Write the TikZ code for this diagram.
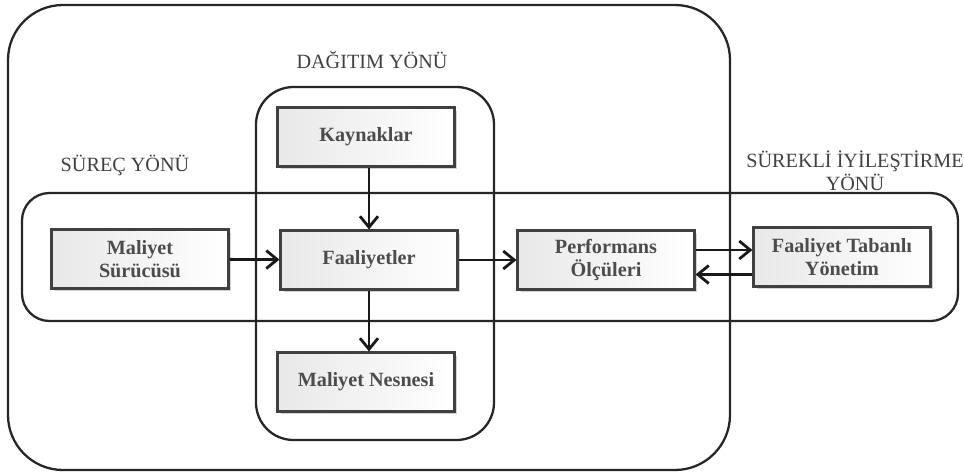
\documentclass[tikz,border=0pt]{standalone}
\usepackage{fontspec}
\setmainfont{Liberation Serif}
\usetikzlibrary{arrows.meta,shadows,positioning}

\begin{document}
\begin{tikzpicture}[
    x=0.02cm, y=-0.02cm,
    block/.style={rectangle, draw=black!75, line width=1.2pt, left color=black!9, right color=white, minimum width=3.54cm, minimum height=1.18cm, align=center, text=black!70, font=\fontsize{11.5}{13}\selectfont\bfseries, drop shadow={opacity=0.35, shadow xshift=0.6mm, shadow yshift=-0.6mm}},
    frame/.style={draw=black!85, line width=1.3pt},
    caption/.style={text=black!75, align=center, font=\fontsize{11.5}{13}\selectfont},
    arrow/.style={-{Straight Barb[length=2.2mm, width=3.6mm]}, line width=1.6pt, black!90}
]
\useasboundingbox (0,0) rectangle (964,476);

% Frames
\draw[frame, rounded corners=1.1cm] (8,5) rectangle (730,470);
\draw[frame, rounded corners=0.75cm] (256,87) rectangle (494,440);
\draw[frame, rounded corners=0.55cm] (22,193) rectangle (958,321);

% Direction labels
\node[caption] (dagitim) at (372,60) {DAĞITIM YÖNÜ};
\node[caption] (surec) at (125,165) {SÜREÇ YÖNÜ};
\node[caption] (surekli) at (855,171) {SÜREKLİ İYİLEŞTİRME\\YÖNÜ};

% Blocks
\node[block] (kaynak) at (366,137) {Kaynaklar};
\node[block] (faaliyet) at (369,260) {Faaliyetler};
\node[block] (surucu) at (140,259) {Maliyet\\Sürücüsü};
\node[block] (perf) at (606,260) {Performans\\Ölçüleri};
\node[block] (fty) at (842,257) {Faaliyet Tabanlı\\Yönetim};
\node[block] (nesne) at (366,382) {Maliyet Nesnesi};

% Arrows
\draw[arrow] (kaynak.south -| faaliyet.north) -- (faaliyet.north);
\draw[arrow] (faaliyet) -- (faaliyet |- nesne.north);
\draw[arrow] (surucu) -- (faaliyet);
\draw[arrow] (faaliyet) -- (perf);
\draw[arrow] ([yshift=0.2cm]perf.east) -- ([yshift=0.2cm]perf.east -| fty.west);
\draw[arrow] ([yshift=-0.35cm]fty.west) -- ([yshift=-0.35cm]fty.west -| perf.east);

\end{tikzpicture}
\end{document}
